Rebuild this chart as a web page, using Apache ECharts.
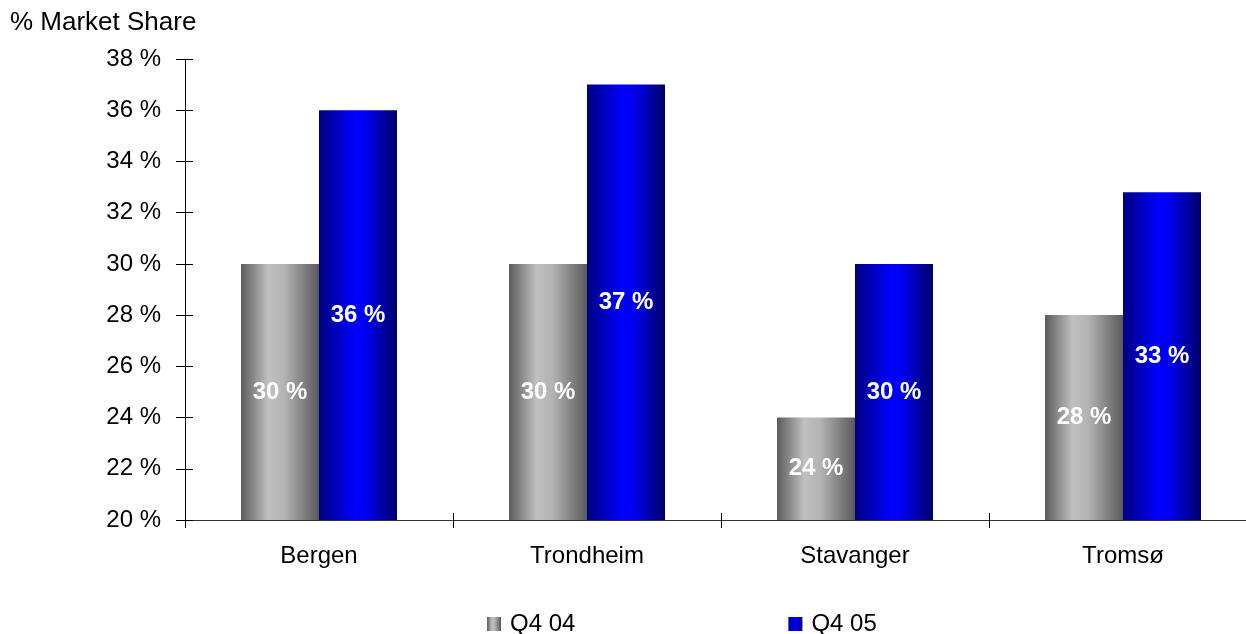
<!DOCTYPE html>
<html>
<head>
<meta charset="utf-8">
<script src="https://cdn.jsdelivr.net/npm/echarts@6/dist/echarts.min.js"></script>
<style>
  html, body { margin: 0; padding: 0; background: #fff; overflow: hidden; }
  #chart { width: 1260px; height: 634px; }
</style>
</head>
<body>
<div id="chart"></div>
<script>
// 数据
var cities = ['Bergen', 'Trondheim', 'Stavanger', 'Tromsø'];
var seriesNames = ['Q4 04', 'Q4 05'];
var q404 = [30, 30, 24, 28];
var q405 = [36, 37, 30, 32.8];
var yMin = 20, yMax = 38, yStep = 2;

var font = 'Liberation Sans, Arial, sans-serif';
var fs = 24;

// 灰色和蓝色渐变
function grad(stops) {
    return new echarts.graphic.LinearGradient(0, 0, 1, 0, stops);
}
var grayFill = grad([
    {offset: 0, color: '#5c5c5c'},
    {offset: 0.35, color: '#c0c0c0'},
    {offset: 0.55, color: '#b4b4b4'},
    {offset: 1, color: '#5a5a5a'}
]);
var blueFill = grad([
    {offset: 0, color: '#000080'},
    {offset: 0.45, color: '#0000ff'},
    {offset: 0.6, color: '#0000f0'},
    {offset: 1, color: '#000068'}
]);

var barLabel = {
    show: true,
    position: 'inside',
    color: '#fff',
    fontFamily: font,
    fontWeight: 'bold',
    fontSize: fs,
    formatter: function(p){ return Math.round(p.value) + ' %'; }
};

var myChart = echarts.init(document.getElementById('chart'));
var option = {
    animation: false,
    title: {
        text: '% Market Share',
        left: 5, top: 5,
        textStyle: {fontFamily: font, fontSize: 26, fontWeight: 'normal', color: '#000'}
    },
    legend: {
        data: seriesNames,
        top: 607,
        left: 482,
        icon: 'rect',
        itemWidth: 14, itemHeight: 14,
        itemGap: 213,
        textStyle: {fontFamily: font, fontSize: fs, color: '#000', padding: [0, 0, 0, 4]}
    },
    grid: {left: 185, top: 59, right: 3, bottom: 114},
    xAxis: [{
        type: 'category',
        data: cities,
        axisLine: {lineStyle: {color: '#333', width: 1}},
        axisTick: {show: true, length: 8, lineStyle: {color: '#000'}},
        axisLabel: {fontFamily: font, fontSize: fs, color: '#000', margin: 24}
    }, {
        type: 'category',
        data: cities,
        position: 'bottom',
        axisLine: {show: false},
        axisTick: {show: true, inside: true, length: 7, lineStyle: {color: '#000'}},
        axisLabel: {show: false}
    }],
    yAxis: [{
        type: 'value',
        min: yMin, max: yMax, interval: yStep,
        splitLine: {show: false},
        axisLine: {show: true, lineStyle: {color: '#000'}},
        axisTick: {show: true, length: 9, lineStyle: {color: '#000'}},
        axisLabel: {fontFamily: font, fontSize: fs, color: '#000', margin: 24, formatter: '{value} %'}
    }, {
        type: 'value',
        position: 'left',
        min: yMin, max: yMax, interval: yStep,
        splitLine: {show: false},
        axisLine: {show: false},
        axisTick: {show: true, inside: true, length: 8, lineStyle: {color: '#000'}},
        axisLabel: {show: false}
    }],
    series: [{
        name: seriesNames[0],
        type: 'bar',
        data: q404,
        barWidth: 78,
        barGap: '0%',
        itemStyle: {color: grayFill},
        label: barLabel
    }, {
        name: seriesNames[1],
        type: 'bar',
        data: q405,
        barWidth: 78,
        barGap: '0%',
        itemStyle: {color: blueFill},
        label: barLabel
    }]
};
myChart.setOption(option);
</script>
</body>
</html>
